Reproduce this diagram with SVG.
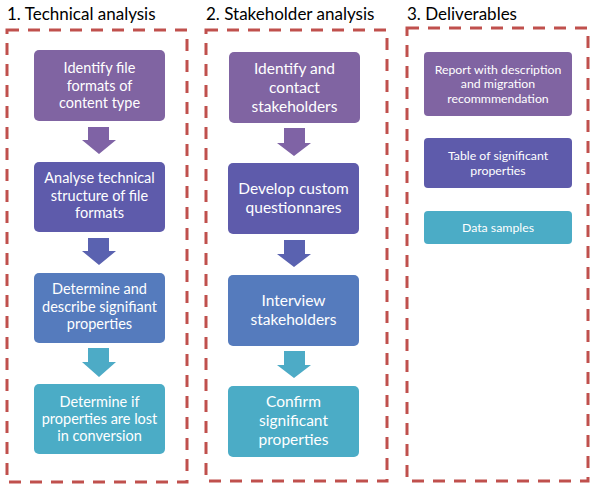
<svg xmlns="http://www.w3.org/2000/svg" width="598" height="491" viewBox="0 0 598 491">
<style>
.frame{fill:none;stroke:#C0504D;stroke-width:3;stroke-dasharray:12 9}
.title{font-family:Lato,"Liberation Sans",sans-serif;font-size:17px;fill:#000}
.t1{font-family:Lato,"Liberation Sans",sans-serif;font-size:14.5px;fill:#fff;text-anchor:middle}
.t2{font-family:Lato,"Liberation Sans",sans-serif;font-size:15.5px;fill:#fff;text-anchor:middle}
.t3{font-family:Lato,"Liberation Sans",sans-serif;font-size:12.3px;fill:#fff;text-anchor:middle}
.c1{fill:#8064A2}.c2{fill:#5E5BAB}.c3{fill:#557BBD}.c4{fill:#4BACC6}
.a1{fill:#7F63A5}.a2{fill:#5A62B0}.a3{fill:#4DABC6}
</style>
<g id="frames">
<rect class="frame" x="7" y="30" width="180" height="452"/>
<rect class="frame" x="206" y="30" width="181" height="451"/>
<rect class="frame" x="407" y="28" width="181" height="453"/>
<text class="title" x="7" y="20">1. Technical analysis</text>
<text class="title" x="206" y="20">2. Stakeholder analysis</text>
<text class="title" x="407" y="20">3. Deliverables</text>
</g>
<g id="connectors">
<path class="a1" d="M88,127H109V140H116L99,154L82,140H88Z"/>
<path class="a2" d="M88,238H109V251H116L99,265L82,251H88Z"/>
<path class="a3" d="M88,348H109V362H116L99,377L82,362H88Z"/>
<path class="a1" d="M284,128H305V143H311L294,156L277,143H284Z"/>
<path class="a2" d="M284,240H305V254H311L294,267L277,254H284Z"/>
<path class="a3" d="M284,351H305V365H311L294,378L277,365H284Z"/>
</g>
<g id="n1a"><rect class="c1" x="34" y="50" width="131" height="71" rx="5"/>
<text class="t1"><tspan x="99.5" y="73">Identify file</tspan><tspan x="99.5" y="91">formats of</tspan><tspan x="99.5" y="108">content type</tspan></text></g>
<g id="n1b"><rect class="c2" x="34" y="162" width="131" height="70" rx="5"/>
<text class="t1"><tspan x="99.5" y="183">Analyse technical</tspan><tspan x="99.5" y="201">structure of file</tspan><tspan x="99.5" y="218">formats</tspan></text></g>
<g id="n1c"><rect class="c3" x="34" y="273" width="131" height="70" rx="5"/>
<text class="t1"><tspan x="99.5" y="294">Determine and</tspan><tspan x="99.5" y="312">describe signifiant</tspan><tspan x="99.5" y="329">properties</tspan></text></g>
<g id="n1d"><rect class="c4" x="34" y="384" width="131" height="70" rx="5"/>
<text class="t1"><tspan x="99.5" y="407">Determine if</tspan><tspan x="99.5" y="424">properties are lost</tspan><tspan x="99.5" y="441">in conversion</tspan></text></g>
<g id="n2a"><rect class="c1" x="229" y="52" width="131" height="71" rx="5"/>
<text class="t2"><tspan x="294.5" y="73.5">Identify and</tspan><tspan x="294.5" y="92.5">contact</tspan><tspan x="294.5" y="111.5">stakeholders</tspan></text></g>
<g id="n2b"><rect class="c2" x="228" y="163" width="131" height="71" rx="5"/>
<text class="t2"><tspan x="293.5" y="193.5">Develop custom</tspan><tspan x="293.5" y="212.5">questionnares</tspan></text></g>
<g id="n2c"><rect class="c3" x="228" y="275" width="131" height="71" rx="5"/>
<text class="t2"><tspan x="293.5" y="305.5">Interview</tspan><tspan x="293.5" y="324.5">stakeholders</tspan></text></g>
<g id="n2d"><rect class="c4" x="228" y="386" width="131" height="71" rx="5"/>
<text class="t2"><tspan x="293.5" y="406.5">Confirm</tspan><tspan x="293.5" y="425.5">significant</tspan><tspan x="293.5" y="444.5">properties</tspan></text></g>
<g id="n3a"><rect class="c1" x="424" y="52" width="148" height="64" rx="4"/>
<text class="t3"><tspan x="498" y="73.5">Report with description</tspan><tspan x="498" y="88">and migration</tspan><tspan x="498" y="102.5">recommmendation</tspan></text></g>
<g id="n3b"><rect class="c2" x="424" y="138" width="148" height="50" rx="4"/>
<text class="t3"><tspan x="498" y="159.5">Table of significant</tspan><tspan x="498" y="174.5">properties</tspan></text></g>
<g id="n3c"><rect class="c4" x="424" y="211" width="148" height="33" rx="4"/>
<text class="t3" x="498" y="232">Data samples</text></g>
</svg>
